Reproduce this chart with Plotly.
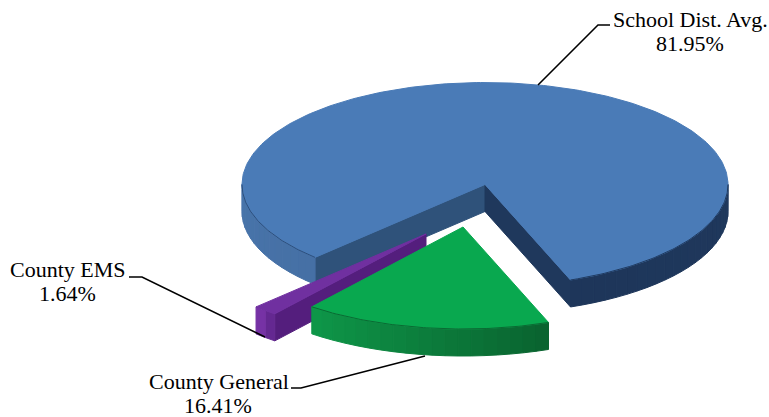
import numpy as np
import plotly.graph_objects as go

# Data
labels = ["School Dist. Avg.", "County General", "County EMS"]
values = [81.95, 16.41, 1.64]

# Drawing geometry (pixel-space scale of the hidden axes)
W, H = 769, 417
RX, RY, DEPTH = 243, 102, 27
CENTER = (485, 184.5)
OFFSET = {"School Dist. Avg.": (0, 0), "County General": (-22, 42.5), "County EMS": (-59, 49.5)}
START = 69.4


def lerp(c1, c2, f):
    return "rgb(%d,%d,%d)" % tuple(round(a + (b - a) * f) for a, b in zip(c1, c2))


def pt(label, t, dz=0):
    a = np.radians(t)
    dx, dy = OFFSET[label]
    return CENTER[0] + dx + RX * np.cos(a), CENTER[1] + dy + RY * np.sin(a) + dz


def apex(label, dz=0):
    dx, dy = OFFSET[label]
    return CENTER[0] + dx, CENTER[1] + dy + dz


fig = go.Figure()


def poly(points, color):
    xs = [p[0] for p in points] + [points[0][0]]
    ys = [p[1] for p in points] + [points[0][1]]
    fig.add_trace(go.Scatter(x=xs, y=ys, mode="lines", fill="toself", fillcolor=color,
                             line=dict(color=color, width=1),
                             hoverinfo="skip", showlegend=False))


def rim(label, t0, t1, c0, c1):
    n = max(2, int(abs(t1 - t0) / 3))
    edges = np.linspace(t0, t1, n + 1)
    for i in range(n):
        ts = np.linspace(edges[i], edges[i + 1], 4)
        upper = [pt(label, t) for t in ts]
        lower = [pt(label, t, DEPTH) for t in ts[::-1]]
        poly(upper + lower, lerp(c0, c1, i / max(1, n - 1)))


def cut(label, t, color):
    poly([apex(label), pt(label, t), pt(label, t, DEPTH), apex(label, DEPTH)], color)


def edge(label, t0, t1, color):
    es = np.linspace(t0, t1, 80)
    p = [pt(label, t) for t in es]
    fig.add_trace(go.Scatter(x=[a[0] for a in p], y=[a[1] for a in p], mode="lines",
                             line=dict(color=color, width=1), hoverinfo="skip", showlegend=False))


def top(label, t0, t1, color):
    ts = np.linspace(t0, t1, int(abs(t1 - t0)) + 2)
    poly([apex(label)] + [pt(label, t) for t in ts], color)


def leader(xs, ys):
    fig.add_trace(go.Scatter(x=xs, y=ys, mode="lines", line=dict(color="black", width=1.6),
                             hoverinfo="skip", showlegend=False))


sweep = {k: v * 3.6 for k, v in zip(labels, values)}
g0, g1 = START, START + sweep["County General"]
p0, p1 = g1, g1 + sweep["County EMS"]
b0, b1 = p1, p1 + sweep["School Dist. Avg."]

# School District slice
cut("School Dist. Avg.", b0, "rgb(47,82,122)")
cut("School Dist. Avg.", START, "rgb(31,56,92)")
rim("School Dist. Avg.", b0, 180, (70, 112, 165), (72, 116, 170))
rim("School Dist. Avg.", 360, b1, (31, 56, 92), (30, 54, 90))
top("School Dist. Avg.", b0, b1, "#4a7bb7")
edge("School Dist. Avg.", b0, 180, "#2d4f7c")
edge("School Dist. Avg.", 360, b1, "#1f3a60")

# County EMS slice
cut("County EMS", p0, "rgb(84,30,125)")
rim("County EMS", p0, p1, (100, 40, 145), (118, 50, 165))
top("County EMS", p0, p1, "#7030a0")

# County General slice
rim("County General", g1, g0, (14, 150, 72), (10, 100, 48))
top("County General", g0, g1, "#09a84f")
edge("County General", g0, g1, "#0a6a33")

# Leaders
leader([538, 598, 610], [85, 25, 25])
leader([129, 142, 265], [277, 277, 337])
leader([291, 301, 425], [388, 388, 356])

text_lines = [
    (690, 19, labels[0]), (690, 43, f"{values[0]:.2f}%"),
    (219, 381, labels[1]), (218, 405, f"{values[1]:.2f}%"),
    (68, 269, labels[2]), (67, 293, f"{values[2]:.2f}%"),
]
for x, y, t in text_lines:
    fig.add_annotation(x=x, y=y, text=t, showarrow=False, xanchor="center", yanchor="middle",
                       font=dict(family="Liberation Serif", size=22, color="black"))

fig.update_layout(
    width=W, height=H, margin=dict(l=0, r=0, t=0, b=0),
    paper_bgcolor="white", plot_bgcolor="white", showlegend=False,
    xaxis=dict(range=[0, W], visible=False, fixedrange=True),
    yaxis=dict(range=[H, 0], visible=False, fixedrange=True),
)
fig.write_html("out.html", config={"displayModeBar": False},
               post_script="document.body.style.margin='0';document.documentElement.style.overflow='hidden';")
